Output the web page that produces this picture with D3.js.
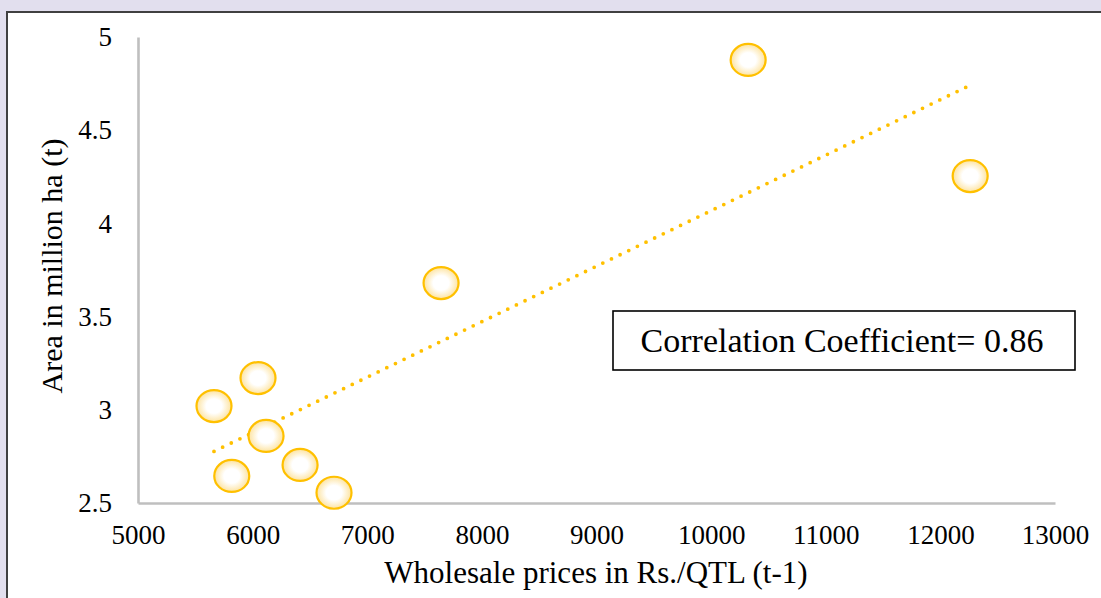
<!DOCTYPE html>
<html>
<head>
<meta charset="utf-8">
<script src="https://cdn.jsdelivr.net/npm/d3@7"></script>
<style>
  html, body { margin: 0; padding: 0; background: #e2dfee; }
  svg { display: block; }
  text { font-family: "Liberation Serif", "Times New Roman", serif; fill: #000; }
</style>
</head>
<body>
<svg id="chart" width="1101" height="598"></svg>
<script>
// Wholesale price (previous year) vs. cultivated area
const prices = [10323, 12260, 7644, 6047, 5663, 6117, 5818, 6414, 6710];
const areas  = [4.877, 4.254, 3.68, 3.17, 3.02, 2.86, 2.645, 2.704, 2.555];
const xTicks = [5000, 6000, 7000, 8000, 9000, 10000, 11000, 12000, 13000];
const yTicks = [2.5, 3, 3.5, 4, 4.5, 5];
const xTitle = "Wholesale prices in Rs./QTL (t-1)";
const yTitle = "Area in million ha (t)";
const noteText = "Correlation Coefficient= 0.86";

const svg = d3.select("#chart");
const W = 1101, H = 598;
const serif = "'Liberation Serif', 'Times New Roman', serif";

// white panel with dark frame on the left and top
svg.append("rect").attr("x", 7).attr("y", 12).attr("width", W).attr("height", H)
  .attr("fill", "#fff").attr("stroke", "#404040").attr("stroke-width", 2);

const x = d3.scaleLinear().domain([5000, 13000]).range([138, 1055]);
const y = d3.scaleLinear().domain([2.5, 5]).range([503, 37]);

const defs = svg.append("defs");
const grad = defs.append("radialGradient").attr("id", "dotFill")
  .attr("cx", "50%").attr("cy", "50%").attr("r", "50%");
grad.append("stop").attr("offset", "0%").attr("stop-color", "#ffffff");
grad.append("stop").attr("offset", "45%").attr("stop-color", "#ffffff");
grad.append("stop").attr("offset", "100%").attr("stop-color", "#fde3a0");

// axes: plain grey lines, no tick marks
const xAxis = svg.append("g").attr("transform", `translate(0,${y(2.5)})`)
  .call(d3.axisBottom(x).tickValues(xTicks).tickSize(0).tickPadding(22).tickFormat(d3.format("d")));
xAxis.select(".domain").attr("stroke", "#bfbfbf").attr("stroke-width", 2.6);
xAxis.selectAll("text").style("font-size", "27px").attr("dy", "0.71em")
  .style("font-family", serif);

const yAxis = svg.append("g").attr("transform", `translate(${x(5000)},0)`)
  .call(d3.axisLeft(y).tickValues(yTicks).tickSize(0).tickPadding(26).tickFormat(d => String(d)));
yAxis.select(".domain").attr("stroke", "#bfbfbf").attr("stroke-width", 2.6);
yAxis.selectAll("text").style("font-size", "27px").style("font-family", serif);

// axis titles
svg.append("text").attr("x", 596).attr("y", 583).attr("text-anchor", "middle")
  .style("font-size", "31px").text(xTitle);
svg.append("text").attr("transform", `translate(62,266) rotate(-90)`)
  .attr("text-anchor", "middle").style("font-size", "30px").text(yTitle);

// least-squares trend line over the observed price range
const mx = d3.mean(prices), my = d3.mean(areas);
const sxy = d3.sum(prices, (p, i) => (p - mx) * (areas[i] - my));
const sxx = d3.sum(prices, p => (p - mx) * (p - mx));
const slope = sxy / sxx, icpt = my - slope * mx;
const [x0, x1] = d3.extent(prices);
svg.append("line")
  .attr("x1", x(x0)).attr("y1", y(icpt + slope * x0))
  .attr("x2", x(x1)).attr("y2", y(icpt + slope * x1))
  .attr("stroke", "#ffc000").attr("stroke-width", 3.8)
  .attr("stroke-linecap", "round").attr("stroke-dasharray", "0 9.6");

// observations
svg.append("g").selectAll("ellipse").data(prices.map((p, i) => [p, areas[i]]))
  .join("ellipse")
  .attr("cx", d => x(d[0])).attr("cy", d => y(d[1]))
  .attr("rx", 17.5).attr("ry", 16)
  .attr("fill", "url(#dotFill)").attr("stroke", "#ffc000").attr("stroke-width", 2.2);

// annotation box
const note = svg.append("g");
note.append("rect").attr("x", 613).attr("y", 311).attr("width", 462).attr("height", 59)
  .attr("fill", "#fff").attr("stroke", "#000").attr("stroke-width", 1.6);
note.append("text").attr("x", 842).attr("y", 352).attr("text-anchor", "middle")
  .style("font-size", "34px").text(noteText);
</script>
</body>
</html>
